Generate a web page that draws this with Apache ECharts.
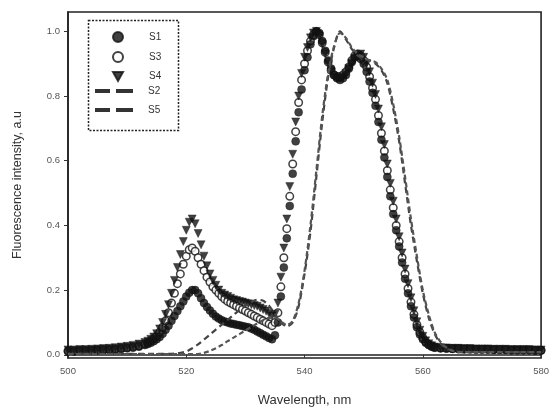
<!DOCTYPE html>
<html><head><meta charset="utf-8">
<script src="https://cdn.jsdelivr.net/npm/echarts@6/dist/echarts.min.js"></script>
<style>html,body{margin:0;padding:0;background:#fff}#c{width:552px;height:416px}</style>
</head><body><div id="c"></div>
<script>
// wavelengths (nm) for scatter series
var wlScatter = [500,501,502,503,504,505,506,507,508,509,510,511,512,513,
513.5,514,514.5,515,515.5,516,516.5,517,517.5,518,518.5,519,519.5,520,520.5,521,521.5,522,522.5,523,
523.5,524,524.5,525,525.5,526,526.5,527,527.5,528,528.5,529,529.5,530,530.5,531,531.5,532,532.5,533,
533.5,534,534.5,535,
535.5,536,536.5,537,537.5,538,538.5,539,539.5,540,540.5,541,541.5,542,542.5,543,543.5,544,544.5,545,
545.5,546,546.5,547,547.5,548,548.5,549,549.5,550,550.5,551,551.5,552,552.5,553,553.5,554,554.5,555,
555.5,556,556.5,557,557.5,558,558.5,559,559.5,560,560.5,561,561.5,562,
563,564,565,566,567,568,569,570,571,572,573,574,575,576,577,578,579,580];

var s1 = [0.01,0.01,0.012,0.012,0.012,0.014,0.014,0.015,0.016,0.018,0.02,0.022,0.025,0.03,
0.033,0.037,0.042,0.048,0.055,0.065,0.077,0.09,0.105,0.12,0.135,0.15,0.165,0.18,0.192,0.2,0.2,0.19,0.175,0.16,
0.148,0.137,0.127,0.118,0.112,0.107,0.103,0.1,0.097,0.095,0.093,0.091,0.089,0.087,0.085,0.081,0.077,0.072,0.067,0.062,
0.057,0.052,0.048,0.06,
0.1,0.18,0.27,0.36,0.46,0.56,0.66,0.75,0.82,0.88,
0.92,0.96,0.985,1.0,0.995,0.97,0.94,0.91,0.885,0.865,
0.855,0.85,0.855,0.865,0.885,0.905,0.92,0.925,0.915,0.9,
0.875,0.845,0.81,0.77,0.72,0.665,0.61,0.55,0.49,0.435,
0.385,0.335,0.285,0.235,0.19,0.15,0.115,0.085,0.063,0.048,
0.037,0.03,0.025,0.022,
0.02,0.019,0.018,0.018,0.017,0.017,0.016,0.016,0.016,0.015,0.015,0.015,0.014,0.014,0.014,0.014,0.013,0.013];

var s3 = [0.012,0.012,0.013,0.013,0.014,0.015,0.016,0.017,0.018,0.02,0.022,0.025,0.028,0.033,
0.038,0.043,0.05,0.058,0.07,0.085,0.105,0.13,0.16,0.19,0.22,0.25,0.28,0.305,0.325,0.33,0.32,0.3,0.28,0.26,
0.24,0.225,0.21,0.2,0.19,0.18,0.172,0.165,0.16,0.155,0.15,0.145,0.14,0.135,0.13,0.125,0.12,0.115,0.11,0.105,
0.1,0.095,0.09,0.1,
0.13,0.21,0.3,0.39,0.49,0.59,0.69,0.78,0.85,0.9,
0.94,0.97,0.99,1.0,0.99,0.965,0.935,0.905,0.88,0.865,
0.86,0.86,0.865,0.875,0.89,0.91,0.925,0.93,0.925,0.91,
0.89,0.86,0.825,0.79,0.74,0.685,0.63,0.57,0.51,0.455,
0.4,0.35,0.3,0.25,0.205,0.163,0.125,0.093,0.07,0.053,
0.04,0.032,0.027,0.023,
0.021,0.02,0.019,0.019,0.018,0.018,0.017,0.017,0.017,0.016,0.016,0.016,0.015,0.015,0.015,0.015,0.014,0.014];

var s4 = [0.015,0.015,0.016,0.016,0.017,0.018,0.019,0.02,0.022,0.024,0.026,0.029,0.033,0.038,
0.042,0.048,0.055,0.065,0.08,0.1,0.125,0.155,0.19,0.23,0.27,0.31,0.35,0.385,0.41,0.42,0.405,0.375,0.34,0.305,
0.275,0.25,0.23,0.215,0.2,0.19,0.185,0.18,0.175,0.17,0.168,0.165,0.163,0.16,0.158,0.155,0.152,0.15,0.145,0.14,
0.135,0.128,0.12,0.125,
0.16,0.24,0.33,0.42,0.52,0.62,0.72,0.8,0.87,0.92,
0.95,0.98,0.995,1.0,0.985,0.96,0.93,0.9,0.875,0.86,
0.855,0.855,0.86,0.87,0.885,0.9,0.915,0.925,0.93,0.92,
0.9,0.875,0.84,0.805,0.76,0.705,0.65,0.59,0.53,0.475,
0.42,0.365,0.315,0.265,0.22,0.176,0.136,0.102,0.076,0.057,
0.043,0.034,0.028,0.024,
0.022,0.021,0.02,0.02,0.019,0.019,0.018,0.018,0.018,0.017,0.017,0.017,0.016,0.016,0.016,0.016,0.015,0.015];

// wavelengths (nm) for the dashed series
var wlLine = [500,501,502,503,504,505,506,507,508,509,510,511,512,513,514,515,516,517,518,519,
520,521,522,523,524,525,526,527,528,529,530,531,532,533,534,535,536,537,538,539,
540,541,542,543,544,545,546,547,548,549,550,551,552,553,554,555,556,557,558,559,
560,561,562,563,564,565,566,567,568,569,570,571,572,573,574,575,576,577,578,579,580];

var s2 = [0.003,0.003,0.003,0.003,0.003,0.003,0.003,0.003,0.003,0.003,0.003,0.003,0.003,0.003,0.003,0.003,0.003,0.003,0.004,0.006,
0.01,0.02,0.032,0.047,0.062,0.078,0.093,0.108,0.123,0.138,0.152,0.163,0.17,0.167,0.152,0.125,0.1,0.088,0.1,0.15,
0.25,0.38,0.55,0.72,0.86,0.95,1.0,0.975,0.945,0.925,0.915,0.91,0.9,0.88,0.84,0.76,0.66,0.53,0.4,0.29,
0.19,0.115,0.065,0.035,0.02,0.012,0.008,0.008,0.008,0.008,0.008,0.008,0.008,0.008,0.008,0.008,0.008,0.008,0.008,0.008,0.008];

var s5 = [0.002,0.002,0.002,0.002,0.002,0.002,0.002,0.002,0.002,0.002,0.002,0.002,0.002,0.002,0.002,0.002,0.002,0.002,0.002,0.002,
0.002,0.002,0.002,0.006,0.012,0.02,0.03,0.042,0.053,0.064,0.075,0.086,0.097,0.107,0.114,0.115,0.103,0.092,0.105,0.16,
0.26,0.4,0.57,0.74,0.87,0.955,0.995,0.98,0.95,0.93,0.92,0.91,0.905,0.885,0.85,0.775,0.675,0.55,0.42,0.305,
0.2,0.125,0.07,0.04,0.022,0.013,0.008,0.008,0.008,0.008,0.008,0.008,0.008,0.008,0.008,0.008,0.008,0.008,0.008,0.008,0.008];

var xTicks = [500,520,540,560,580];
var yTicks = [0,0.2,0.4,0.6,0.8,1.0];

function pairs(xs, ys){ return xs.map(function(x,i){ return [x, ys[i]]; }); }

var FONT = 'Liberation Sans';
var ink = '#111';
var chart = echarts.init(document.getElementById('c'), null, {renderer:'canvas'});
chart.setOption({
  animation:false,
  backgroundColor:'#fff',
  textStyle:{fontFamily:FONT},
  grid:{left:68,right:10,top:12,bottom:58,show:true,borderColor:'#222',borderWidth:1.6,backgroundColor:'transparent'},
  xAxis:{type:'value',min:500,max:580,interval:20,
    name:'Wavelength, nm',nameLocation:'middle',nameGap:36,
    nameTextStyle:{fontSize:13,color:'#333',fontFamily:FONT},
    axisLine:{show:true,lineStyle:{color:'#222',width:1.6}},
    axisTick:{show:true,inside:false,length:3,lineStyle:{color:'#333'}},
    axisLabel:{fontSize:9.5,color:'#555',margin:8,formatter:function(v){return xTicks.indexOf(v)>=0?String(v):'';}},
    splitLine:{show:false}},
  yAxis:{type:'value',min:-0.01,max:1.06,
    name:'Fluorescence intensity, a.u',nameLocation:'middle',nameGap:44,nameRotate:90,
    nameTextStyle:{fontSize:12.5,color:'#333',fontFamily:FONT},
    axisLine:{show:true,lineStyle:{color:'#222',width:1.6}},
    axisTick:{show:true,inside:false,length:4,lineStyle:{color:'#333'},customValues:yTicks},
    axisLabel:{fontSize:9.5,color:'#555',margin:8,customValues:yTicks,formatter:function(v){return v.toFixed(1);}},
    splitLine:{show:false}},
  legend:[
    {orient:'vertical',left:112,top:31,padding:0,itemGap:8,itemWidth:10,itemHeight:10,
      textStyle:{fontSize:10,color:'#333',lineHeight:10,padding:[0,0,0,21]},
      data:[{name:'S1',icon:'circle'},{name:'S3',icon:'circle'},
            {name:'S4',icon:'path://M0,0L10,0L5,9Z'}]},
    {orient:'vertical',left:95,top:86,padding:0,itemGap:9,itemWidth:38,itemHeight:5,
      textStyle:{fontSize:10,color:'#333',lineHeight:10,padding:[0,0,0,10]},
      data:[{name:'S2',icon:'path://M0,0h15v4h-15z M21,0h17v4h-17z'},
            {name:'S5',icon:'path://M0,0h15v4h-15z M21,0h17v4h-17z'}]}
  ],
  graphic:[{type:'rect',left:86,top:18,shape:{width:90,height:110},
    style:{fill:'none',stroke:'#222',lineWidth:1.5,lineDash:[2,1.5]},z:100}],
  series:[
    {name:'S3',type:'scatter',data:pairs(wlScatter,s3),symbol:'circle',symbolSize:7.5,
      itemStyle:{color:'#fff',borderColor:ink,borderWidth:1.5}},
    {name:'S1',type:'scatter',data:pairs(wlScatter,s1),symbol:'circle',symbolSize:8,
      itemStyle:{color:ink,borderColor:ink,borderWidth:0.5}},
    {name:'S4',type:'scatter',data:pairs(wlScatter,s4),symbol:'triangle',symbolRotate:180,symbolSize:8,
      itemStyle:{color:ink,borderColor:ink,borderWidth:0.5}},
    {name:'S2',type:'line',data:pairs(wlLine,s2),showSymbol:false,symbol:'none',smooth:0.3,
      lineStyle:{color:'#444',width:2.2,type:[6,4]},itemStyle:{color:'#333'}},
    {name:'S5',type:'line',data:pairs(wlLine,s5),showSymbol:false,symbol:'none',smooth:0.3,
      lineStyle:{color:'#555',width:2.2,type:[5,3]},itemStyle:{color:'#333'}}
  ]
});
</script></body></html>
